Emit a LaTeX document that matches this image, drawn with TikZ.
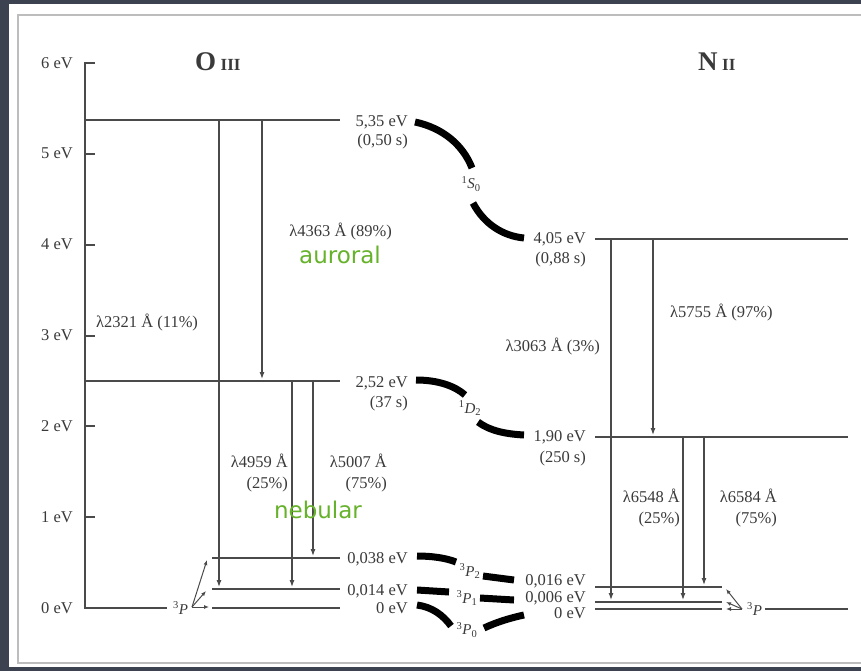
\documentclass[tikz,border=0pt]{standalone}
\usepackage{fontspec}
\setmainfont{Liberation Serif}
\newfontfamily\greenfont{DejaVu Sans}
\usetikzlibrary{arrows.meta}
\definecolor{bgdark}{HTML}{3D4250}
\definecolor{ink}{HTML}{3A3A3A}
\definecolor{lvl}{HTML}{4A4A4A}
\definecolor{grn}{HTML}{66B22A}
\definecolor{framegray}{HTML}{BDBDBD}
\begin{document}
\begin{tikzpicture}[x=1pt,y=-1pt,
  level/.style={draw=lvl,line width=2pt},
  trans/.style={draw=lvl,line width=1.1pt,shorten >=1pt,-{Latex[length=7pt,width=5pt]}},
  smallarr/.style={draw=lvl,line width=1pt,-{Latex[length=5pt,width=4pt]}},
  band/.style={draw=black,line width=7pt},
  lab/.style={text=ink,font=\fontsize{16.5}{18}\selectfont,inner sep=0pt},
  term/.style={text=ink,font=\fontsize{15}{16}\selectfont,inner sep=0pt},
  greenlab/.style={text=grn,font=\greenfont\fontsize{23}{26}\selectfont,inner sep=0pt},
  titlelab/.style={text=ink,inner sep=0pt},
]
\useasboundingbox (0,0) rectangle (861,671);
% background and panel
\fill[bgdark] (0,0) rectangle (861,671);
\fill[white] (9,4) rectangle (861,667);
\draw[framegray,line width=2.5pt] (861,15) -- (18,15) -- (18,663) -- (861,663);

% titles
\node[titlelab,anchor=base west] (tO) at (195,71) {\fontsize{27}{28}\selectfont\textbf{O}\,{\fontsize{17}{17}\selectfont\textbf{III}}};
\node[titlelab,anchor=base west] (tN) at (698,71) {\fontsize{27}{28}\selectfont\textbf{N}\,{\fontsize{17}{17}\selectfont\textbf{II}}};

% axis
\coordinate (axtop) at (85,63);
\coordinate (axtick) at (95,63);
\coordinate (axbot) at (85,608);
\coordinate (axend) at (167,608);
\draw[level] (axtick) -- (axtop) -- (axbot) -- (axend);
\foreach \v in {1,...,5}{
  \coordinate (tk\v a) at (85,{608-90.83*\v});
  \coordinate (tk\v b) at (95,{608-90.83*\v});
  \draw[level] (tk\v a) -- (tk\v b);
}
\foreach \v in {0,...,6}{
  \node[lab,anchor=base east] (ax\v) at (73,{613-90.83*\v}) {\v\ eV};
}

% O III levels
\coordinate (OSl) at (85,120);  \coordinate (OSr) at (340,120);
\coordinate (ODl) at (85,381);  \coordinate (ODr) at (340,381);
\coordinate (OP2l) at (212,558); \coordinate (OP2r) at (340,558);
\coordinate (OP1l) at (212,589); \coordinate (OP1r) at (340,589);
\coordinate (OP0l) at (212,608); \coordinate (OP0r) at (340,608);
\draw[level] (OSl) -- (OSr);
\draw[level] (ODl) -- (ODr);
\draw[level] (OP2l) -- (OP2r);
\draw[level] (OP1l) -- (OP1r);
\draw[level] (OP0l) -- (OP0r);

% N II levels
\coordinate (NSl) at (595,239);  \coordinate (NSr) at (848,239);
\coordinate (NDl) at (595,437);  \coordinate (NDr) at (848,437);
\coordinate (NP2l) at (595,587); \coordinate (NP2r) at (722,587);
\coordinate (NP1l) at (595,602); \coordinate (NP1r) at (722,602);
\coordinate (NP0l) at (595,609); \coordinate (NP0r) at (722,609);
\coordinate (NPgl) at (765,609); \coordinate (NPgr) at (848,609);
\draw[level] (NSl) -- (NSr);
\draw[level] (NDl) -- (NDr);
\draw[level] (NP2l) -- (NP2r);
\draw[level] (NP1l) -- (NP1r);
\draw[level] (NP0l) -- (NP0r);
\draw[level] (NPgl) -- (NPgr);

% O III transitions
\coordinate (a1s) at (219,120); \coordinate (a1e) at (219,588);
\coordinate (a2s) at (262,120); \coordinate (a2e) at (262,380);
\coordinate (a3s) at (292,381); \coordinate (a3e) at (292,588);
\coordinate (a4s) at (313,381); \coordinate (a4e) at (313,557);
\draw[trans] (a1s) -- (a1e);
\draw[trans] (a2s) -- (a2e);
\draw[trans] (a3s) -- (a3e);
\draw[trans] (a4s) -- (a4e);

% N II transitions
\coordinate (b1s) at (611,239); \coordinate (b1e) at (611,601);
\coordinate (b2s) at (653,239); \coordinate (b2e) at (653,436);
\coordinate (b3s) at (683,437); \coordinate (b3e) at (683,601);
\coordinate (b4s) at (704,437); \coordinate (b4e) at (704,586);
\draw[trans] (b1s) -- (b1e);
\draw[trans] (b2s) -- (b2e);
\draw[trans] (b3s) -- (b3e);
\draw[trans] (b4s) -- (b4e);

% small 3P arrows
\node[term,anchor=base west] (OPlab) at (173,614) {\textsuperscript{3}\textit{P}};
\coordinate (OPo) at (192,607);
\coordinate (OPt2) at (207,560);
\coordinate (OPt1) at (206,591);
\coordinate (OPt0) at (209,607);
\draw[smallarr] (OPo) -- (OPt2);
\draw[smallarr] (OPo) -- (OPt1);
\draw[smallarr] (OPo) -- (OPt0);

\node[term,anchor=base west] (NPlab) at (747,615) {\textsuperscript{3}\textit{P}};
\coordinate (NPo) at (742,609);
\coordinate (NPt2) at (726,589);
\coordinate (NPt1) at (726,602);
\coordinate (NPt0) at (726,609);
\draw[smallarr] (NPo) -- (NPt2);
\draw[smallarr] (NPo) -- (NPt1);
\draw[smallarr] (NPo) -- (NPt0);

% energy labels O III
\node[lab,anchor=base east] (eOS) at (408,127) {5,35 eV};
\node[lab,anchor=base east] (tOS) at (408,146) {(0,50 s)};
\node[lab,anchor=base east] (eOD) at (408,387) {2,52 eV};
\node[lab,anchor=base east] (tOD) at (408,407) {(37 s)};
\node[lab,anchor=base east] (eOP2) at (408,563) {0,038 eV};
\node[lab,anchor=base east] (eOP1) at (408,595) {0,014 eV};
\node[lab,anchor=base east] (eOP0) at (408,613) {0 eV};

% energy labels N II
\node[lab,anchor=base east] (eNS) at (586,243) {4,05 eV};
\node[lab,anchor=base east] (tNS) at (586,263) {(0,88 s)};
\node[lab,anchor=base east] (eND) at (586,441) {1,90 eV};
\node[lab,anchor=base east] (tND) at (586,462) {(250 s)};
\node[lab,anchor=base east] (eNP2) at (586,585) {0,016 eV};
\node[lab,anchor=base east] (eNP1) at (586,602) {0,006 eV};
\node[lab,anchor=base east] (eNP0) at (586,618) {0 eV};

% bands
\coordinate (S1a) at (415,122); \coordinate (S1b) at (472,168);
\coordinate (S2a) at (473,203); \coordinate (S2b) at (524,238);
\draw[band] (S1a) .. controls (443,128) and (463,145) .. (S1b);
\draw[band] (S2a) .. controls (484,224) and (503,236) .. (S2b);
\node[term] (tS) at (471,184) {\textsuperscript{1}\textit{S}\textsubscript{0}};

\coordinate (D1a) at (416,380); \coordinate (D1b) at (465,395);
\coordinate (D2a) at (478,422); \coordinate (D2b) at (524,435);
\draw[band] (D1a) .. controls (438,380) and (455,386) .. (D1b);
\draw[band] (D2a) .. controls (490,431) and (506,434) .. (D2b);
\node[term] (tD) at (470,408) {\textsuperscript{1}\textit{D}\textsubscript{2}};

\coordinate (P2a) at (417,556); \coordinate (P2b) at (456,562);
\coordinate (P2c) at (483,576); \coordinate (P2d) at (514,580);
\draw[band] (P2a) .. controls (432,556) and (446,558) .. (P2b);
\draw[band] (P2c) -- (P2d);
\node[term] (tP2) at (470,571) {\textsuperscript{3}\textit{P}\textsubscript{2}};

\coordinate (P1a) at (417,590); \coordinate (P1b) at (449,592);
\coordinate (P1c) at (480,598); \coordinate (P1d) at (514,600);
\draw[band] (P1a) -- (P1b);
\draw[band] (P1c) -- (P1d);
\node[term] (tP1) at (467,598) {\textsuperscript{3}\textit{P}\textsubscript{1}};

\coordinate (P0a) at (417,605); \coordinate (P0b) at (451,626);
\coordinate (P0c) at (484,628); \coordinate (P0d) at (524,615);
\draw[band] (P0a) .. controls (432,607) and (443,615) .. (P0b);
\draw[band] (P0c) .. controls (497,622) and (510,618) .. (P0d);
\node[term] (tP0) at (467,630) {\textsuperscript{3}\textit{P}\textsubscript{0}};

% transition labels
\node[lab,anchor=base west] (l2321) at (96,327) {λ2321 Å (11\%)};
\node[lab,anchor=base east] (l4363) at (392,236) {λ4363 Å (89\%)};
\node[lab,anchor=base east] (l4959) at (288,467) {λ4959 Å};
\node[lab,anchor=base east] (p4959) at (288,488) {(25\%)};
\node[lab,anchor=base east] (l5007) at (387,467) {λ5007 Å};
\node[lab,anchor=base east] (p5007) at (387,488) {(75\%)};
\node[lab,anchor=base east] (l3063) at (600,351) {λ3063 Å (3\%)};
\node[lab,anchor=base west] (l5755) at (670,317) {λ5755 Å (97\%)};
\node[lab,anchor=base east] (l6548) at (680,502) {λ6548 Å};
\node[lab,anchor=base east] (p6548) at (680,523) {(25\%)};
\node[lab,anchor=base east] (l6584) at (777,502) {λ6584 Å};
\node[lab,anchor=base east] (p6584) at (777,523) {(75\%)};

% green annotations
\node[greenlab,anchor=base] (aur) at (340,263) {auroral};
\node[greenlab,anchor=base] (neb) at (318,518) {nebular};
\end{tikzpicture}
\end{document}
